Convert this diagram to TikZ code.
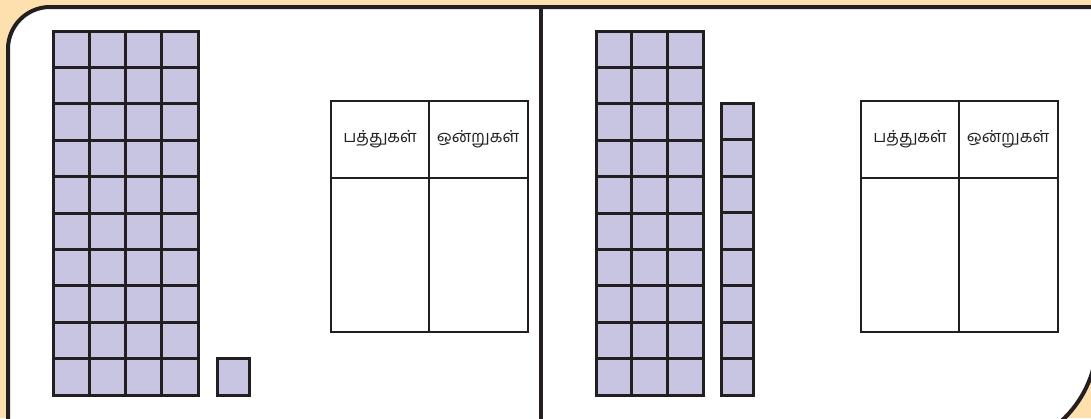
\documentclass[tikz,border=0pt]{standalone}
\usepackage{fontspec}
\newfontfamily\tamilfont[Script=Tamil]{Hind Madurai}
\definecolor{bgorange}{HTML}{FEDFAE}
\definecolor{ink}{HTML}{231F20}
\definecolor{cubefill}{HTML}{C8C5E2}
\tikzset{
  cellbox/.style={fill=cubefill, draw=ink, line width=3pt},
  tableline/.style={draw=ink, line width=2.5pt},
  framepath/.style={fill=white, draw=ink, line width=4pt},
  headtext/.style={font=\tamilfont\fontsize{16.5}{19}\selectfont, text=ink, inner sep=0pt}
}
\begin{document}
\begin{tikzpicture}[x=1pt,y=-1pt]
\useasboundingbox (0,0) rectangle (1091,418);
\fill[bgorange] (0,0) rectangle (1091,418);
% panel
\path[framepath] (8,450) -- (8,49) arc[start angle=180,end angle=270,radius=42]
  -- (1097,7) -- (1097,340) arc[start angle=0,end angle=90,radius=110] -- cycle;
% divider
\draw[draw=ink, line width=4pt] (541,8) -- (541,420);
% left: 4 tens
\foreach \i in {0,...,3}
  \foreach \j in {0,...,9}
    \draw[cellbox] ({53+36.25*\i},{31+36.4*\j}) rectangle +(36.25,36.4);
% single cube
\draw[cellbox] (217,358) rectangle (249,395);
% left table
\draw[tableline] (331,101) rectangle (528,332);
\draw[tableline] (429,101) -- (429,332);
\draw[tableline] (331,178) -- (528,178);
\node[headtext] (lt) at (380,139) {பத்துகள்};
\node[headtext] (lo) at (478,139) {ஒன்றுகள்};
% right: 3 tens
\foreach \i in {0,...,2}
  \foreach \j in {0,...,9}
    \draw[cellbox] ({596+35.67*\i},{31+36.4*\j}) rectangle +(35.67,36.4);
% rod of 8
\foreach \j in {0,...,7}
  \draw[cellbox] (721,{103+36.5*\j}) rectangle +(32,36.5);
% right table
\draw[tableline] (861,101) rectangle (1058,332);
\draw[tableline] (959,101) -- (959,332);
\draw[tableline] (861,178) -- (1058,178);
\node[headtext] (rt) at (910,139) {பத்துகள்};
\node[headtext] (ro) at (1008,139) {ஒன்றுகள்};
\end{tikzpicture}
\end{document}
